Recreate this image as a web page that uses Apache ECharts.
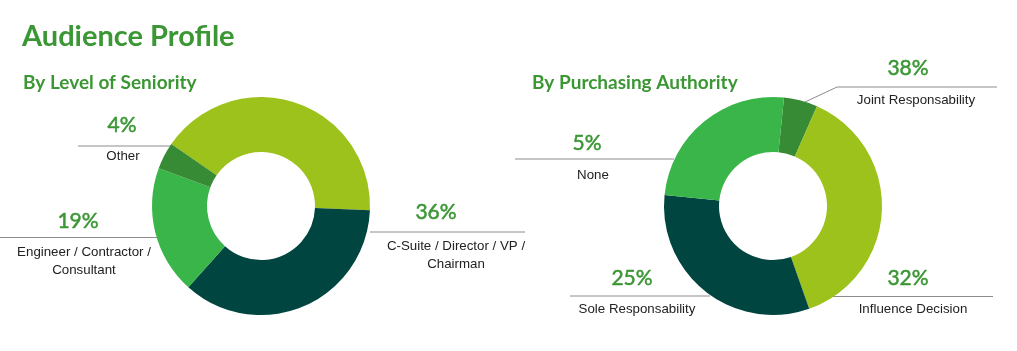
<!DOCTYPE html>
<html>
<head>
<meta charset="utf-8">
<title>Audience Profile</title>
<script src="https://cdn.jsdelivr.net/npm/echarts@6/dist/echarts.min.js"></script>
<style>
    html, body { margin: 0; padding: 0; background: #ffffff; }
    #chart { width: 1017px; height: 351px; }
</style>
</head>
<body>
<div id="chart"></div>
<script>
// data: by level of seniority (first slice has no label in the source)
const seniorityNames = ["", "C-Suite / Director / VP /\nChairman", "Engineer / Contractor /\nConsultant", "Other"];
const seniorityValues = [41, 36, 19, 4];

// data: by purchasing authority
const authorityNames = ["None", "Joint Responsability", "Influence Decision", "Sole Responsability"];
const authorityValues = [5, 38, 32, 25];

const titleText = "Audience Profile";
const subTitles = ["By Level of Seniority", "By Purchasing Authority"];

// slice colours
const colLight = "#9cc21b";
const colTeal = "#004540";
const colGreen = "#3ab54a";
const colDark = "#378b35";
const textGreen = "#3b9634";
const lineGray = "#8c8c8c";

// where each slice's label sits: percent pos, name pos, leader line points
const seniorityLayout = [
    null,
    { pct: [436, 212], name: [456, 255], line: [[370, 232], [525, 232]] },
    { pct: [78, 221], name: [84, 261], line: [[0, 237.5], [157, 237.5]] },
    { pct: [122, 125], name: [123, 156], line: [[78, 146], [171, 146]] }
];
const authorityLayout = [
    { pct: [587, 143], name: [593, 175], line: [[515, 159], [674, 159]] },
    { pct: [908, 68], name: [916, 100], line: [[805, 102], [837, 87], [997, 87]] },
    { pct: [908, 278], name: [913, 309], line: [[833, 296.5], [993, 296.5]] },
    { pct: [632, 278], name: [637, 309], line: [[570, 296], [710, 296]] }
];

function buildLabels(names, values, layout) {
    let items = [];
    for (let i = 0; i < names.length; i++) {
        let l = layout[i];
        if (!l) continue;
        // leader line
        items.push({
            type: "polyline",
            z: 1,
            shape: { points: l.line },
            style: { stroke: lineGray, lineWidth: 1, fill: null }
        });
        // percent, a bit heavier than plain Lato regular
        items.push({
            type: "text",
            x: l.pct[0],
            y: l.pct[1],
            style: {
                text: values[i] + "%",
                fill: textGreen,
                stroke: textGreen,
                lineWidth: 0.5,
                font: "21px Lato",
                align: "center",
                verticalAlign: "middle"
            }
        });
        // category name
        items.push({
            type: "text",
            x: l.name[0],
            y: l.name[1],
            style: {
                text: names[i],
                fill: "#222222",
                font: "13.3px 'Liberation Sans', Arial, sans-serif",
                lineHeight: 18,
                align: "center",
                verticalAlign: "middle"
            }
        });
    }
    return items;
}

function buildData(names, values, colors) {
    return values.map(function(v, i) {
        return { name: names[i], value: v, itemStyle: { color: colors[i] } };
    });
}

var myChart = echarts.init(document.getElementById("chart"));

var graphics = [
    {
        type: "text", x: 22, y: 37,
        style: { text: titleText, fill: textGreen, font: "bold 29px Lato", verticalAlign: "middle" }
    },
    {
        type: "text", x: 23, y: 83,
        style: { text: subTitles[0], fill: textGreen, font: "bold 19px Lato", verticalAlign: "middle" }
    },
    {
        type: "text", x: 532, y: 83,
        style: { text: subTitles[1], fill: textGreen, font: "bold 19px Lato", verticalAlign: "middle" }
    }
].concat(buildLabels(seniorityNames, seniorityValues, seniorityLayout))
 .concat(buildLabels(authorityNames, authorityValues, authorityLayout));

var option = {
    backgroundColor: "#ffffff",
    animation: false,
    graphic: graphics,
    series: [
        {
            type: "pie",
            center: [261, 206],
            radius: [54, 109],
            startAngle: 145.4,
            clockwise: true,
            silent: true,
            z: 5,
            label: { show: false },
            labelLine: { show: false },
            data: buildData(seniorityNames, seniorityValues, [colLight, colTeal, colGreen, colDark])
        },
        {
            type: "pie",
            center: [773, 206],
            radius: [54, 109],
            startAngle: 84.2,
            clockwise: true,
            silent: true,
            z: 5,
            label: { show: false },
            labelLine: { show: false },
            data: buildData(authorityNames, authorityValues, [colDark, colLight, colTeal, colGreen])
        }
    ]
};

myChart.setOption(option);
</script>
</body>
</html>
